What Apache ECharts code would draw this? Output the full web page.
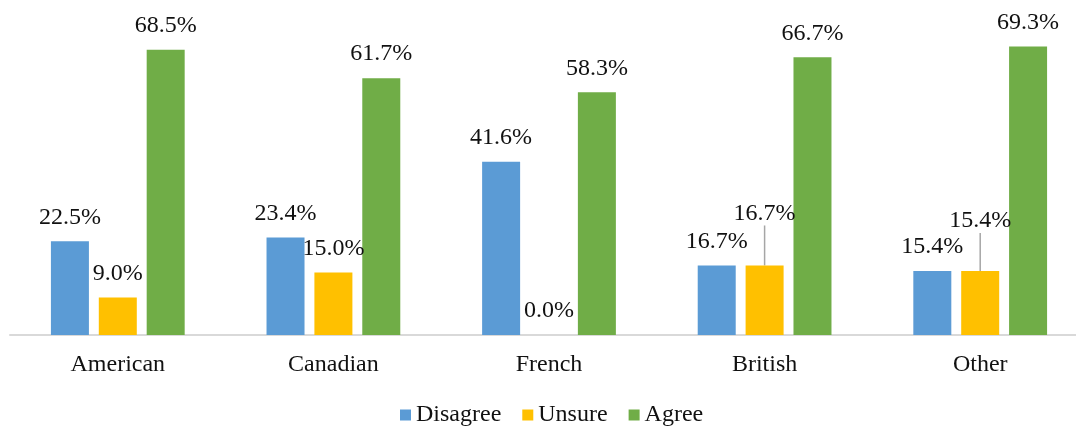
<!DOCTYPE html>
<html>
<head>
<meta charset="utf-8">
<script src="https://cdn.jsdelivr.net/npm/echarts@6/dist/echarts.min.js"></script>
<style>
  html, body { margin: 0; padding: 0; background: #fff; }
  #chart { width: 1076px; height: 428px; }
</style>
</head>
<body>
<div id="chart"></div>
<script>
// Survey responses by nationality (percent of respondents)
const categories = ['American', 'Canadian', 'French', 'British', 'Other'];
const disagree = [22.5, 23.4, 41.6, 16.7, 15.4];
const unsure = [9.0, 15.0, 0.0, 16.7, 15.4];
const agree = [68.5, 61.7, 58.3, 66.7, 69.3];

// Unsure labels lifted above crowded neighbours, joined to their bar by a leader line
const unsureLift = { 3: -28, 4: -26 };

const FONT = '"Liberation Serif", "Times New Roman", serif';
const chart = echarts.init(document.getElementById('chart'), null, { renderer: 'canvas' });

const labelStyle = {
  show: true,
  position: 'top',
  distance: 12,
  fontFamily: FONT,
  fontSize: 24,
  color: '#111',
  formatter: p => p.value.toFixed(1) + '%'
};

const unsureData = unsure.map((v, i) => unsureLift[i] !== undefined
  ? { value: v, labelLine: { show: true, lineStyle: { color: '#a6a6a6', width: 1.5 } } }
  : { value: v });

chart.setOption({
  animation: false,
  textStyle: { fontFamily: FONT },
  grid: { left: 10, width: 1078, top: 2, bottom: 93, containLabel: false, outerBoundsMode: 'none' },
  legend: {
    bottom: -4,
    left: 395,
    icon: 'rect',
    itemWidth: 11,
    itemHeight: 11,
    itemGap: 21,
    textStyle: { fontFamily: FONT, fontSize: 24, color: '#111' },
    data: ['Disagree', 'Unsure', 'Agree']
  },
  xAxis: {
    type: 'category',
    data: categories,
    axisLine: { lineStyle: { color: '#d9d9d9', width: 2 } },
    axisTick: { show: false },
    axisLabel: { fontFamily: FONT, fontSize: 24, color: '#111', margin: 18 }
  },
  yAxis: {
    type: 'value',
    min: 0,
    max: 80,
    show: false,
    splitLine: { show: false }
  },
  series: [
    {
      name: 'Disagree',
      type: 'bar',
      data: disagree,
      barWidth: 38,
      barGap: '26%',
      itemStyle: { color: '#5b9bd5' },
      label: labelStyle
    },
    {
      name: 'Unsure',
      type: 'bar',
      data: unsureData,
      barWidth: 38,
      barGap: '26%',
      itemStyle: { color: '#ffc000' },
      label: labelStyle,
      labelLayout: p => (unsureLift[p.dataIndex] !== undefined ? { dy: unsureLift[p.dataIndex] } : {})
    },
    {
      name: 'Agree',
      type: 'bar',
      data: agree,
      barWidth: 38,
      barGap: '26%',
      itemStyle: { color: '#70ad47' },
      label: labelStyle
    }
  ]
});
</script>
</body>
</html>
